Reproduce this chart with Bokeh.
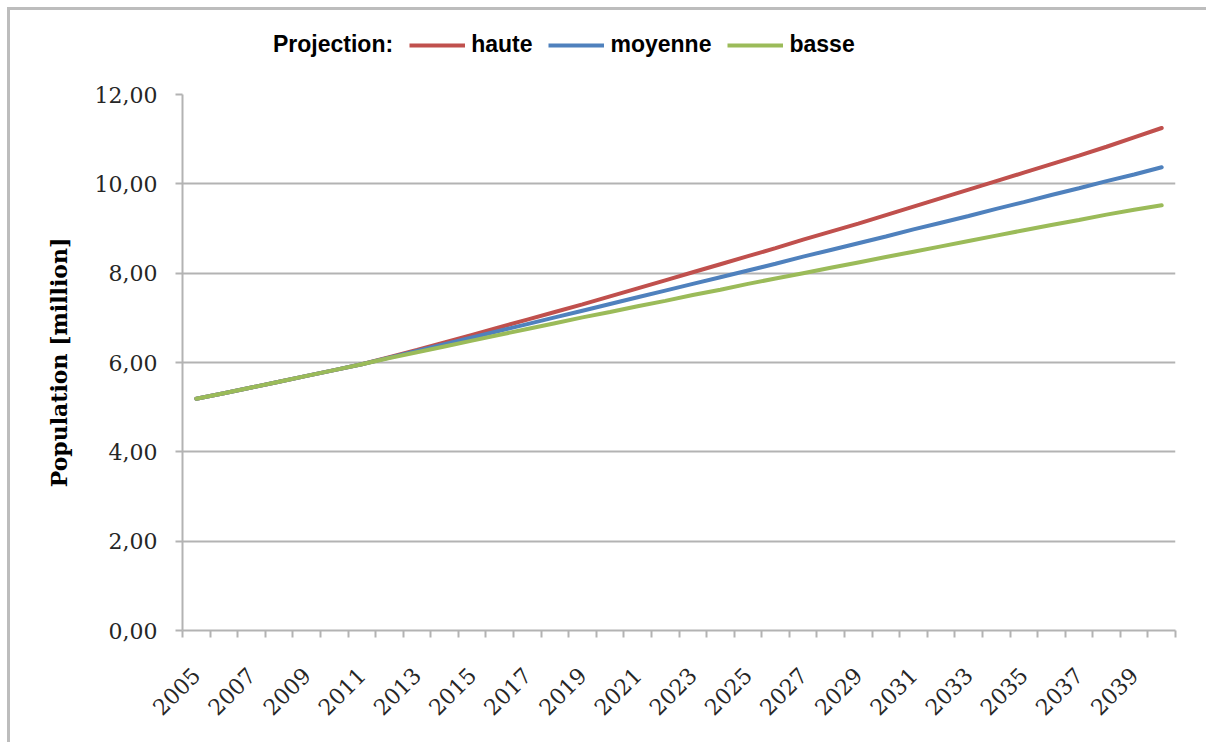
from math import pi

from bokeh.plotting import figure
from bokeh.layouts import column
from bokeh.models import Range1d, FixedTicker, Legend, LegendItem
from bokeh.embed import file_html
from bokeh.resources import INLINE

# Population projections (million), one value per year
years = list(range(2005, 2041))
haute = [5.19, 5.31, 5.44, 5.57, 5.70, 5.83, 5.96,
         6.12, 6.28, 6.45, 6.62, 6.79, 6.96, 7.13, 7.30, 7.48, 7.66,
         7.84, 8.02, 8.20, 8.38, 8.56, 8.75, 8.93, 9.11, 9.30, 9.49,
         9.68, 9.87, 10.06, 10.25, 10.44, 10.63, 10.83, 11.04, 11.25]
moyenne = [5.19, 5.31, 5.44, 5.57, 5.70, 5.83, 5.96,
           6.11, 6.26, 6.41, 6.56, 6.71, 6.86, 7.01, 7.16, 7.31, 7.46,
           7.61, 7.76, 7.91, 8.06, 8.21, 8.37, 8.52, 8.67, 8.82, 8.98,
           9.13, 9.28, 9.44, 9.59, 9.75, 9.90, 10.06, 10.21, 10.37]
basse = [5.19, 5.31, 5.44, 5.57, 5.70, 5.83, 5.96,
         6.10, 6.23, 6.36, 6.49, 6.62, 6.75, 6.88, 7.01, 7.13, 7.26,
         7.38, 7.51, 7.63, 7.76, 7.88, 8.00, 8.12, 8.24, 8.36, 8.48,
         8.60, 8.72, 8.84, 8.96, 9.08, 9.19, 9.31, 9.42, 9.52]

series_names = ["haute", "moyenne", "basse"]
series_colors = ["#c0504d", "#4f81bd", "#9bbb59"]
legend_title = "Projection:"

label_years = list(range(2005, 2040, 2))
y_ticks = [0, 2, 4, 6, 8, 10, 12]
y_tick_labels = ["0,00", "2,00", "4,00", "6,00", "8,00", "10,00", "12,00"]

series = [haute, moyenne, basse]

AXIS_GRAY = "#b3b3b3"
SERIF = "DejaVu Serif"
SANS = "Liberation Sans"
LINE_W = 4

# ---- main chart -----------------------------------------------------------
p = figure(
    frame_width=993, frame_height=536,
    min_border_left=172, min_border_right=31,
    min_border_top=14, min_border_bottom=112,
    x_range=Range1d(years[0] - 0.5, years[-1] + 0.5),
    y_range=Range1d(y_ticks[0], y_ticks[-1]),
    output_backend="svg", toolbar_location=None,
    background_fill_color="white", border_fill_color="white",
)
p.outline_line_color = None

# x axis: tick marks between the years, labels on every other year
bounds = [y - 0.5 for y in years] + [years[-1] + 0.5]
xa = p.xaxis[0]
xa.ticker = FixedTicker(ticks=label_years, minor_ticks=bounds)
xa.major_tick_out = 0
xa.major_tick_in = 0
xa.minor_tick_out = 7
xa.minor_tick_in = 0
xa.minor_tick_line_color = AXIS_GRAY
xa.minor_tick_line_width = 2
xa.axis_line_color = AXIS_GRAY
xa.axis_line_width = 2
xa.major_label_orientation = pi / 4
xa.major_label_text_font = SERIF
xa.major_label_text_font_size = "22px"
xa.major_label_text_color = "#262626"
xa.major_label_standoff = 34

# y axis
ya = p.yaxis[0]
ya.ticker = FixedTicker(ticks=y_ticks, minor_ticks=[])
ya.major_label_overrides = {t: s for t, s in zip(y_ticks, y_tick_labels)}
ya.major_tick_out = 7
ya.major_tick_in = 0
ya.major_tick_line_color = AXIS_GRAY
ya.major_tick_line_width = 2
ya.axis_line_color = AXIS_GRAY
ya.axis_line_width = 2
ya.major_label_text_font = SERIF
ya.major_label_text_font_size = "22px"
ya.major_label_text_color = "#262626"
ya.major_label_standoff = 18
ya.axis_label = "Population [million]"
ya.axis_label_text_font = SERIF
ya.axis_label_text_font_style = "bold"
ya.axis_label_text_font_size = "22px"
ya.axis_label_text_color = "black"
ya.axis_label_standoff = 20

p.xgrid.visible = False
p.ygrid.grid_line_color = AXIS_GRAY
p.ygrid.grid_line_width = 2

for vals, color in zip(series, series_colors):
    p.line(years, vals, line_color=color, line_width=LINE_W, line_cap="round")

# ---- legend strip above the chart ----------------------------------------
# Its frame lines up with the chart's frame; the series drawn here fall
# outside its 0..1 ranges, so only their legend samples show.
key = figure(
    width=1196, height=70, min_border=0,
    x_range=Range1d(0, 1), y_range=Range1d(0, 1),
    x_axis_type=None, y_axis_type=None,
    output_backend="svg", toolbar_location=None,
    background_fill_color="white", border_fill_color="white",
)
key.outline_line_color = None
key.xgrid.visible = False
key.ygrid.visible = False

caption = key.line(x=[], y=[], line_alpha=0)
samples = [key.line(years, vals, line_color=c, line_width=LINE_W)
           for vals, c in zip(series, series_colors)]

legend = Legend(
    items=[LegendItem(label=legend_title, renderers=[caption])]
    + [LegendItem(label=n, renderers=[r]) for n, r in zip(series_names, samples)],
    orientation="horizontal", location=(29, 22),
    glyph_width=56, glyph_height=20, label_standoff=6, spacing=16,
    padding=0, margin=0, border_line_color=None, background_fill_alpha=0,
    label_text_font=SANS, label_text_font_style="bold",
    label_text_font_size="23px", label_text_color="black",
)
key.add_layout(legend)

page = column(key, p, spacing=0)
page.styles = {
    "margin-left": "7px", "margin-top": "7px",
    "border-top": "3px solid #bdbdbd", "border-left": "3px solid #bdbdbd",
}

open("out.html", "w").write(file_html(page, INLINE))
